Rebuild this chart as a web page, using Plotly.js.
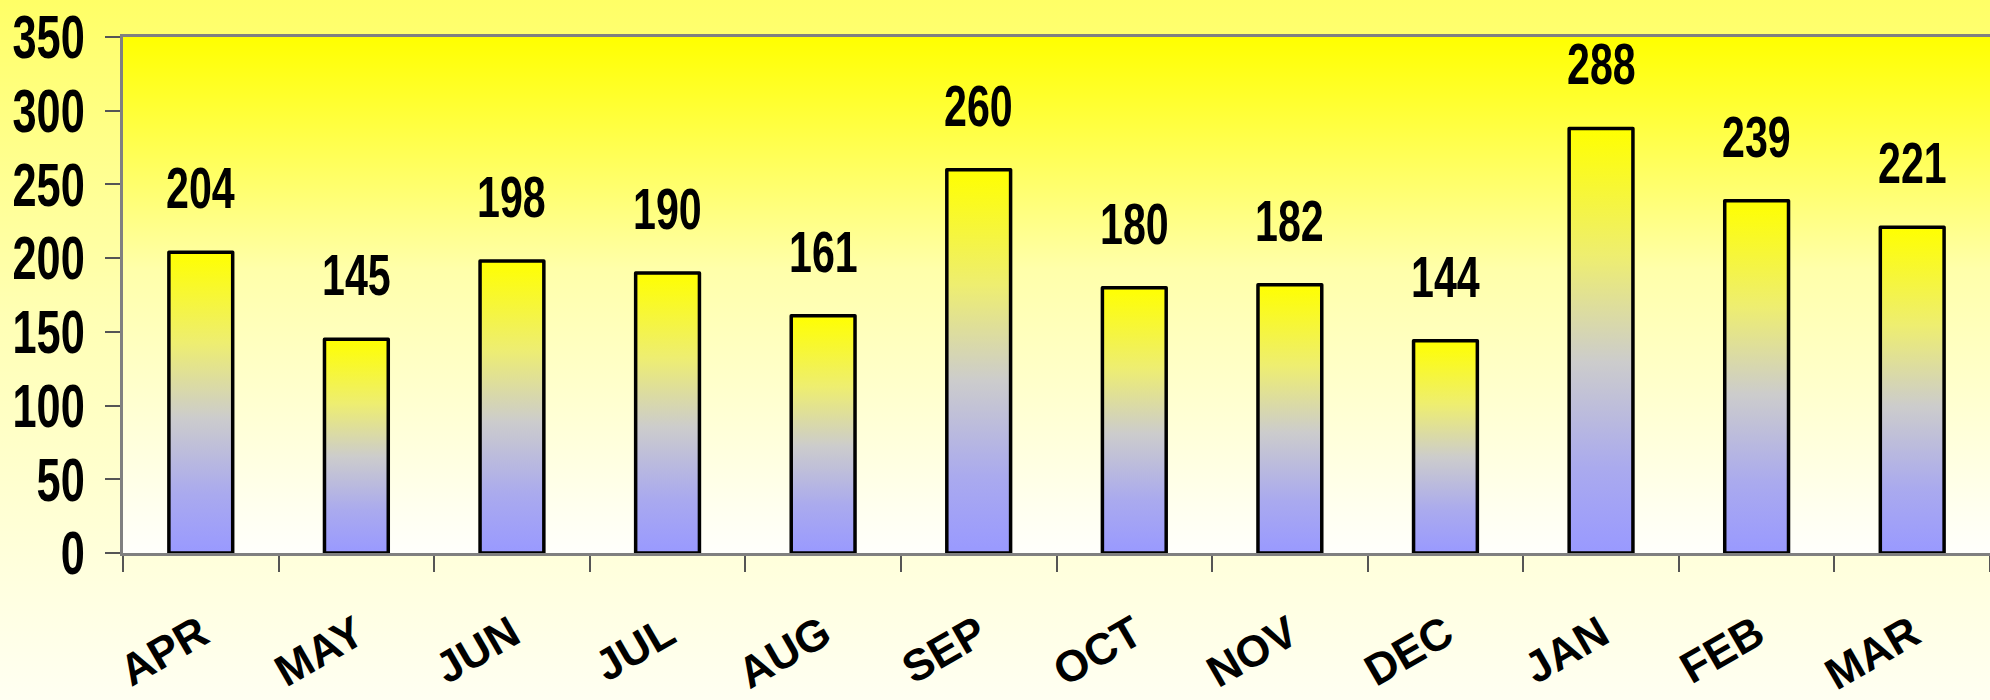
<!DOCTYPE html>
<html>
<head>
<meta charset="utf-8">
<script src="https://cdn.plot.ly/plotly-3.0.1.min.js"></script>
<style>
  html, body { margin: 0; padding: 0; }
  #chart {
    width: 1990px; height: 700px;
    background: linear-gradient(to bottom, #ffff66 0%, #ffffb4 45%, #fffff2 100%);
  }
</style>
</head>
<body>
<div id="chart"></div>
<script>
const months = ["APR", "MAY", "JUN", "JUL", "AUG", "SEP", "OCT", "NOV", "DEC", "JAN", "FEB", "MAR"];
const values = [204, 145, 198, 190, 161, 260, 180, 182, 144, 288, 239, 221];
const yTicks = [0, 50, 100, 150, 200, 250, 300, 350];

const boldFont = '"Liberation Sans", Arial, sans-serif';
const NARROW = 0.71;

const trace = {
  type: 'bar',
  x: months,
  y: values,
  width: 0.41,
  marker: { color: '#ccccaa', line: { color: '#000000', width: 3.5 } },
  hoverinfo: 'none'
};

const annotations = months.map((m, i) => ({
  x: m, y: values[i], xref: 'x', yref: 'y',
  text: String(values[i]),
  showarrow: false,
  yanchor: 'bottom',
  yshift: 30,
  font: { family: boldFont, size: 58, color: '#000000', weight: 'bold' }
}));

const layout = {
  width: 1990, height: 700,
  margin: { l: 123, r: 0, t: 37, b: 147 },
  paper_bgcolor: 'rgba(0,0,0,0)',
  plot_bgcolor: '#ffff99',
  showlegend: false,
  xaxis: {
    type: 'category',
    tickangle: -30,
    ticks: 'outside', tickson: 'boundaries', ticklen: 16, tickwidth: 2, tickcolor: '#555555',
    ticklabelstandoff: 35,
    showline: true, linecolor: '#808080', linewidth: 3, mirror: true,
    showgrid: false, zeroline: false,
    tickfont: { family: boldFont, size: 44, color: '#000000', weight: 'bold' }
  },
  yaxis: {
    range: [0, 350],
    tickvals: yTicks,
    ticktext: yTicks.map(String),
    ticks: 'outside', ticklen: 15, tickwidth: 2, tickcolor: '#555555',
    ticklabelstandoff: 8,
    showline: true, linecolor: '#808080', linewidth: 3,
    showgrid: false, zeroline: false,
    tickfont: { family: boldFont, size: 61, color: '#000000', weight: 'bold' }
  },
  annotations: annotations
};

const gd = document.getElementById('chart');
Plotly.newPlot(gd, [trace], layout, { staticPlot: true, displayModeBar: false }).then(() => {
  const svg = gd.querySelector('svg.main-svg');
  const NS = 'http://www.w3.org/2000/svg';
  let defs = svg.querySelector('defs');
  if (!defs) { defs = document.createElementNS(NS, 'defs'); svg.insertBefore(defs, svg.firstChild); }
  function addGrad(id, stops) {
    const g = document.createElementNS(NS, 'linearGradient');
    g.setAttribute('id', id);
    g.setAttribute('x1', '0'); g.setAttribute('y1', '0');
    g.setAttribute('x2', '0'); g.setAttribute('y2', '1');
    stops.forEach(([o, c]) => {
      const s = document.createElementNS(NS, 'stop');
      s.setAttribute('offset', o); s.setAttribute('stop-color', c);
      g.appendChild(s);
    });
    defs.appendChild(g);
  }
  addGrad('barGrad', [['0', '#ffff00'], ['0.3', '#eeee70'], ['0.55', '#cccccc'], ['0.8', '#aaaaee'], ['1', '#9999ff']]);
  addGrad('plotGrad', [['0', '#ffff00'], ['0.45', '#ffffaa'], ['1', '#fffffc']]);
  gd.querySelectorAll('.bars .point path').forEach(p => {
    p.style.fill = 'url(#barGrad)';
    p.style.strokeLinejoin = 'round';
  });
  const bg = gd.querySelector('.bglayer rect.bg');
  if (bg) bg.style.fill = 'url(#plotGrad)';
  // condensed look for the numeric labels
  const narrowTexts = [...gd.querySelectorAll('.ytick text'), ...gd.querySelectorAll('.annotation-text')];
  narrowTexts.forEach(t => {
    const w = t.getComputedTextLength();
    if (w > 0) {
      t.setAttribute('textLength', (w * NARROW).toFixed(1));
      t.setAttribute('lengthAdjust', 'spacingAndGlyphs');
    }
  });
});
</script>
</body>
</html>
